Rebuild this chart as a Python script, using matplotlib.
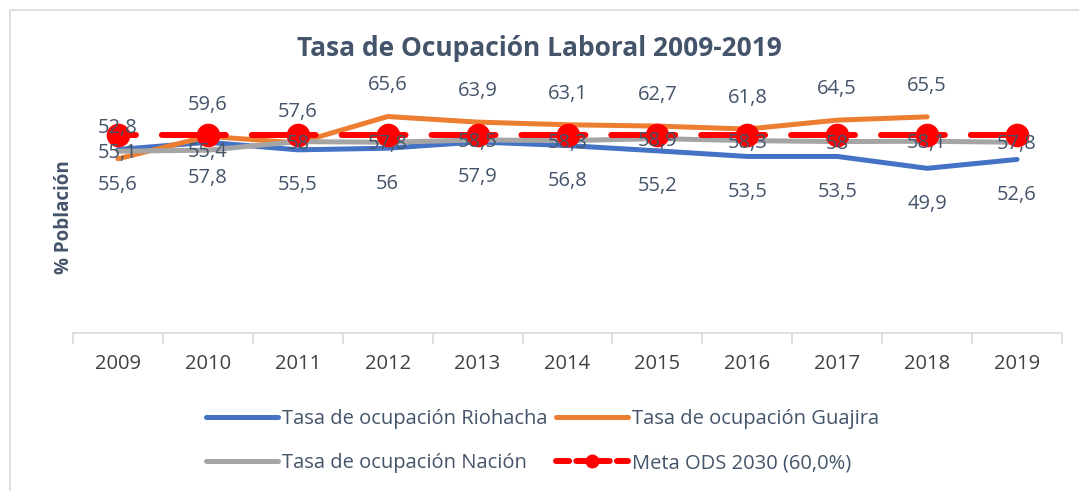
import matplotlib.pyplot as plt
from matplotlib.lines import Line2D
from matplotlib.patches import Rectangle

years = ["2009", "2010", "2011", "2012", "2013", "2014", "2015", "2016", "2017", "2018", "2019"]
riohacha = [55.6, 57.8, 55.5, 56, 57.9, 56.8, 55.2, 53.5, 53.5, 49.9, 52.6]
guajira = [52.8, 59.6, 57.6, 65.6, 63.9, 63.1, 62.7, 61.8, 64.5, 65.5]
nacion = [55.1, 55.4, 58, 57.8, 58.5, 58.3, 58.9, 58.3, 58, 58.1, 57.8]
meta = [60] * len(years)

label_color = "#44546A"
grid_color = "#D9D9D9"
plt.rcParams["font.family"] = ["Open Sans", "DejaVu Sans"]

fig = plt.figure(figsize=(10.79, 4.91), dpi=100)
ax = fig.add_axes([73 / 1079, 1 - 333 / 491, (1062 - 73) / 1079, (333 - 69) / 491])

# outer chart border
fig.patches.append(Rectangle((10 / 1079, -0.1), 1.2, 1 - 10 / 491 + 0.1,
                             transform=fig.transFigure, fill=False,
                             edgecolor=grid_color, linewidth=1.2))

x = list(range(len(years)))


def fmt(v):
    return f"{v:g}".replace(".", ",")


l1, = ax.plot(x, riohacha, color="#4472C4", lw=3.6, solid_capstyle="round",
              label="Tasa de ocupación Riohacha", zorder=2)
l2, = ax.plot(x[:len(guajira)], guajira, color="#ED7D31", lw=3.6,
              solid_capstyle="round", label="Tasa de ocupación Guajira", zorder=2)
l3, = ax.plot(x, nacion, color="#A5A5A5", lw=3.6, solid_capstyle="round",
              label="Tasa de ocupación Nación", zorder=3)
ax.plot(x, meta, color="#FF0000", lw=4.3, ls=(7.7, (10.7, 4.35)),
        dash_capstyle="round", marker="o", markersize=16, zorder=4)
l4 = Line2D([], [], color="#FF0000", lw=4.3, ls=(0, (2.2, 1.2)), dash_capstyle="round",
            marker="o", markersize=9, label="Meta ODS 2030 (60,0%)")

lab_kw = dict(textcoords="offset points", ha="center", va="center",
              fontsize=14.5, color=label_color, zorder=5)
for i, v in enumerate(guajira):
    ax.annotate(fmt(v), (i, v), xytext=(0, 22.5), **lab_kw)
for i, v in enumerate(riohacha):
    ax.annotate(fmt(v), (i, v), xytext=(0, -25.5), **lab_kw)
for i, v in enumerate(nacion):
    ax.annotate(fmt(v), (i, v), xytext=(0, -1.5), **lab_kw)

ax.set_xlim(-0.5, len(years) - 0.5)
ax.set_ylim(0, 80)
ax.set_yticks([])
for s in ["top", "right", "left"]:
    ax.spines[s].set_visible(False)
ax.spines["bottom"].set_color(grid_color)
ax.spines["bottom"].set_linewidth(1.2)

ax.set_xticks(x)
ax.set_xticklabels(years, fontsize=14.5, color="#404040")
ax.tick_params(axis="x", which="major", length=0, pad=15)
ax.set_xticks([i - 0.5 for i in range(len(years) + 1)], minor=True)
ax.tick_params(axis="x", which="minor", length=8, color=grid_color, width=1.2)

ax.set_ylabel("% Población", fontsize=13.5, fontweight="bold", color=label_color)
ax.yaxis.set_label_coords(0.001, 0.44)

fig.text(0.5, 1 - 48 / 491, "Tasa de Ocupación Laboral 2009-2019", ha="center",
         va="center", fontsize=19, fontweight="bold", color=label_color)

fig.legend(handles=[l1, l3, l2, l4], loc="center", bbox_to_anchor=(0.503, 1 - 441 / 491),
           ncol=2, frameon=False, fontsize=14.5, handlelength=3.6, handletextpad=0.2,
           columnspacing=0.4, labelspacing=1.2, labelcolor=label_color)

fig.savefig("out.png", dpi=100, facecolor="white")
